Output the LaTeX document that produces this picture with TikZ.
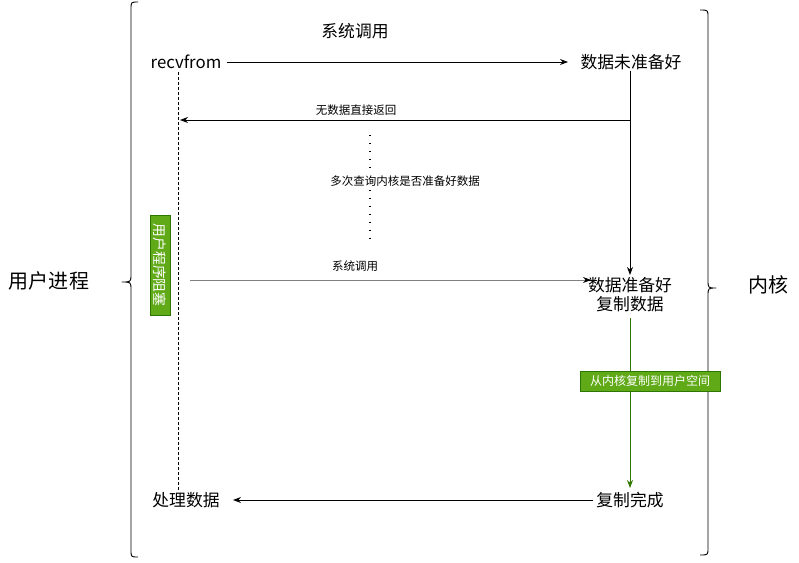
\documentclass[tikz,border=0pt]{standalone}
\usepackage{fontspec}
\setmainfont{Noto Sans CJK SC}
\usetikzlibrary{arrows.meta}
\definecolor{grn}{HTML}{60A917}
\definecolor{grnedge}{HTML}{2D7600}
\definecolor{gry}{HTML}{808080}
\tikzset{
  x=1pt, y=-1pt,
  big/.style={font=\fontsize{16.8}{19}\selectfont, inner sep=1pt},
  huge/.style={font=\fontsize{20}{23}\selectfont, inner sep=1pt},
  small/.style={font=\fontsize{11.5}{13}\selectfont, inner sep=1pt},
  tag/.style={fill=grn, draw=grnedge, text=white, font=\fontsize{12}{14}\selectfont,
    inner sep=1pt, minimum height=20pt},
  arr/.style={-{Stealth[length=8pt,width=6pt]}, line width=0.9pt},
  brace/.style={line width=0.9pt, line join=round}
}
\begin{document}
\begin{tikzpicture}
\useasboundingbox (0,0) rectangle (799,562);

% side braces
\draw[brace] (138,2) .. controls (131,2) .. (131,9) -- (131,274)
  .. controls (131,282) .. (122,282) .. controls (131,282) .. (131,290)
  -- (131,550) .. controls (131,557) .. (138,557);
\draw[brace] (700,10) .. controls (708,10) .. (708,17) -- (708,280)
  .. controls (708,288) .. (716,288) .. controls (708,288) .. (708,296)
  -- (708,548) .. controls (708,555) .. (700,555);

\node[huge] (user) at (49,281) {用户进程};
\node[huge] (kernel) at (768,285) {内核};

% user side
\node[big] (recv) at (186,62) {recvfrom};
\node[big] (proc) at (186,500) {处理数据};
\draw[line width=0.8pt, dash pattern=on 3pt off 2pt] (178,72) -- (178,490);
\node[tag, rotate=-90, minimum width=100pt, font=\fontsize{13.8}{15}\selectfont] (block) at (160,265) {用户程序阻塞};

% kernel side
\node[big] (notready) at (631,62) {数据未准备好};
\node[big, align=center] (ready) at (630,295) {数据准备好\\复制数据};
\node[big] (done) at (630,500) {复制完成};

\node[big] (sys) at (355,31) {系统调用};
\draw[arr] (recv.east) ++(4,0) coordinate (r0) (r0) -- (notready.west -| 568,0);

% return with no data
\coordinate (ret) at (630,120);
\draw[line width=0.9pt] (notready.south -| 630,0) -- (ret);
\draw[arr] (ret) -- (180,120);
\node[small] (nodata) at (356,110) {无数据直接返回};
\draw[arr] (ret) -- (630,275);

% repeated polling
\coordinate (p0) at (370,135);
\coordinate (p1) at (370,240);
\draw[line width=1.2pt, dash pattern=on 0.9pt off 7pt] (p0) -- (p1);
\node[small, fill=white, inner sep=2pt] (poll) at (405,181) {多次查询内核是否准备好数据};

% second system call
\coordinate (s0) at (190,280);
\draw[line width=0.9pt, draw=gry, -{Stealth[length=8pt,width=6pt,color=black]}] (s0) -- (591,280);
\node[small] (sys2) at (355,266) {系统调用};

% copy to user space
\draw[arr, draw=grnedge] (630,318) -- (630,488);
\node[tag, minimum width=140pt] (copy) at (650,381) {从内核复制到用户空间};

\draw[arr] (done.west) ++(-2,0) coordinate (d0) (d0) -- (233,500);
\end{tikzpicture}
\end{document}
